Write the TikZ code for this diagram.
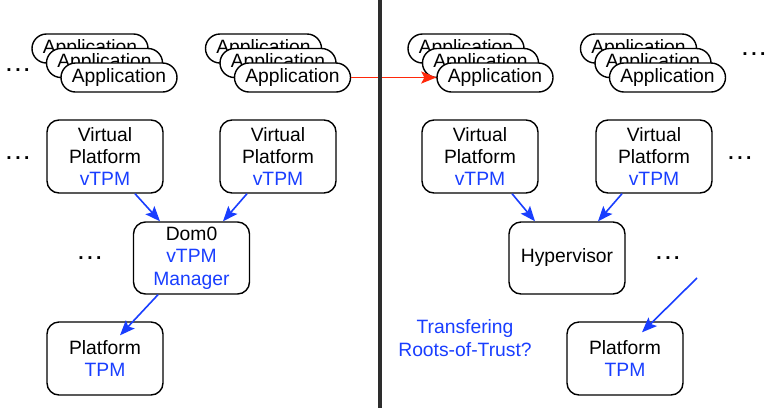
\documentclass[tikz,border=0pt]{standalone}
\usepackage{fontspec}
\setmainfont{Liberation Sans}
\usetikzlibrary{arrows.meta,calc}
\definecolor{myblue}{RGB}{25,62,255}
\definecolor{myred}{RGB}{255,40,10}
\definecolor{divider}{RGB}{45,45,45}
\begin{document}
\begin{tikzpicture}[x=1pt,y=-1pt,
  every node/.style={font=\fontsize{19.3}{22.4}\selectfont},
  box/.style={draw, line width=1.4pt, rounded corners=12pt, fill=white,
    minimum width=116pt, minimum height=73pt, align=center, inner sep=0pt},
  app/.style={draw, line width=1.4pt, rounded corners=14.5pt, fill=white,
    minimum width=116pt, minimum height=29pt, inner sep=0pt},
  flow/.style={draw=myblue, line width=1.6pt, -{Stealth[length=15pt,width=12pt,inset=3pt]}},
  redflow/.style={draw=myred, line width=1.8pt, -{Stealth[length=15pt,width=12pt,inset=3pt]}},
  dots/.style={inner sep=0pt, anchor=base, font=\fontsize{19.3}{22.4}\selectfont\bfseries},
  bl/.style={text=myblue}
]
\useasboundingbox (0,0) rectangle (765,408);
\fill[white] (0,0) rectangle (765,408);

% application stacks
\foreach \n/\x in {lappA/119, lappB/292.5, rappA/495, rappB/667.5}{
  \node[app] (\n1) at (\x-29,48.5) {Application};
  \node[app] (\n2) at (\x-14.5,63) {Application};
  \node[app] (\n3) at (\x,77.5) {Application};
}

% left side boxes
\node[box] (vp1) at (105,156.5) {Virtual\\Platform\\\textcolor{myblue}{vTPM}};
\node[box] (vp2) at (278,156.5) {Virtual\\Platform\\\textcolor{myblue}{vTPM}};
\node[box, minimum height=72pt] (dom0) at (191.5,258) {Dom0\\\textcolor{myblue}{vTPM}\\\textcolor{myblue}{Manager}};
\node[box] (plat1) at (105,358.5) {Platform\\\textcolor{myblue}{TPM}};

% right side boxes
\node[box] (vp3) at (480,156.5) {Virtual\\Platform\\\textcolor{myblue}{vTPM}};
\node[box] (vp4) at (654,156.5) {Virtual\\Platform\\\textcolor{myblue}{vTPM}};
\node[box, minimum height=72pt] (hyp) at (567,258) {Hypervisor};
\node[box] (plat2) at (625,358.5) {Platform\\\textcolor{myblue}{TPM}};

\node[bl, align=center, inner sep=0pt] (rot) at (465,338) {Transfering\\Roots-of-Trust?};

% dots
\node[dots] (d1) at (18,71.4) {.\hspace{3.5pt}.\hspace{3.5pt}.};
\node[dots] (d2) at (18,159.4) {.\hspace{3.5pt}.\hspace{3.5pt}.};
\node[dots] (d3) at (90,259.4) {.\hspace{3.5pt}.\hspace{3.5pt}.};
\node[dots] (d4) at (754,55.4) {.\hspace{3.5pt}.\hspace{3.5pt}.};
\node[dots] (d5) at (740,159.4) {.\hspace{3.5pt}.\hspace{3.5pt}.};
\node[dots] (d6) at (668,259.4) {.\hspace{3.5pt}.\hspace{3.5pt}.};

% connectors
\draw[flow] ($(vp1.south)+(30,0)$) -- ($(dom0.north)+(-31.5,0)$);
\draw[flow] ($(vp2.south)+(-31,0)$) -- ($(dom0.north)+(31.5,0)$);
\coordinate (t1) at ($(plat1.north)+(15,14)$);
\draw[flow] ($(dom0.south)+(-33.5,0)$) -- (t1);

\draw[flow] ($(vp3.south)+(32,0)$) -- ($(hyp.north)+(-32,0)$);
\draw[flow] ($(vp4.south)+(-32,0)$) -- ($(hyp.north)+(31,0)$);
\coordinate (s2) at (697,278);
\coordinate (t2) at ($(plat2.north)+(17,11)$);
\draw[flow] (s2) -- (t2);

\draw[redflow] (lappB3.east) -- (rappA3.west);

% divider
\coordinate (divtop) at (379.5,0);
\coordinate (divbot) at (379.5,408);
\draw[divider, line width=4pt] (divtop) -- (divbot);
\end{tikzpicture}
\end{document}
